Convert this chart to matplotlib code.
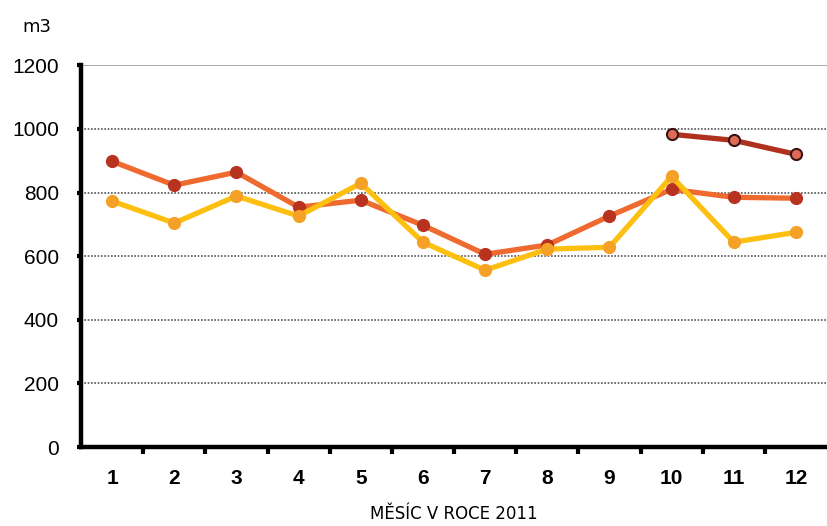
import matplotlib
matplotlib.use('Agg')
import matplotlib.pyplot as plt
import numpy as np

months = [1, 2, 3, 4, 5, 6, 7, 8, 9, 10, 11, 12]
series_a = [898, 823, 864, 754, 776, 697, 606, 635, 726, 810, 785, 782]
series_b = [773, 704, 789, 726, 829, 644, 556, 622, 628, 851, 644, 675]
months_c = [10, 11, 12]
series_c = [983, 964, 920]
yticks = [0, 200, 400, 600, 800, 1000, 1200]

fig = plt.figure(figsize=(8.27, 5.26), dpi=100)
ax = fig.add_axes([0.098, 0.150, 0.902, 0.726])

for y in yticks[1:-1]:
    ax.axhline(y, color='#555555', lw=1.2, ls=(0, (1, 1)), zorder=1)
ax.axhline(1200, color='#999999', lw=1.2, zorder=1)

ax.plot(months, series_a, color='#EE6A2E', lw=3.8, marker='o', ms=8.5,
        mfc='#B8331F', mec='#B8331F', zorder=3)
ax.plot(months, series_b, color='#FDC010', lw=3.8, marker='o', ms=8.5,
        mfc='#F5A127', mec='#F5A127', zorder=4)
ax.plot(months_c, series_c, color='#B0301E', lw=3.8, marker='o', ms=8,
        mfc='#E06A5A', mec='#3a1510', mew=1.5, zorder=5)

ax.set_xlim(0.5, 12.5)
ax.set_ylim(0, 1200)
ax.set_yticks(yticks)
ax.set_yticklabels([str(v) for v in yticks], fontsize=15, family='Liberation Sans')
ax.set_xticks(months)
ax.set_xticklabels([str(m) for m in months], fontsize=15, fontweight='bold',
                   family='Liberation Sans')
ax.set_xticks(np.arange(1.5, 12.5, 1), minor=True)
ax.tick_params(axis='x', which='major', length=0, pad=16)
ax.tick_params(axis='x', which='minor', length=5, width=3, color='black')
ax.tick_params(axis='y', length=3, width=3, pad=13)

for s in ['top', 'right']:
    ax.spines[s].set_visible(False)
for s in ['left', 'bottom']:
    ax.spines[s].set_linewidth(3.2)

ax.set_xlabel('MĚSÍC V ROCE 2011', fontsize=12, labelpad=12,
              family='DejaVu Sans')
fig.text(0.027, 0.965, 'm3', fontsize=13, va='top', ha='left', family='DejaVu Sans')

fig.savefig('out.png', dpi=100)
